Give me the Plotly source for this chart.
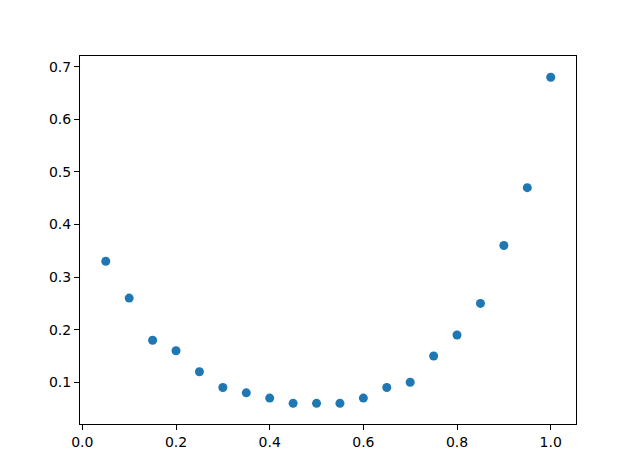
import plotly.graph_objects as go

x_vals = [0.05, 0.10, 0.15, 0.20, 0.25, 0.30, 0.35, 0.40, 0.45, 0.50,
          0.55, 0.60, 0.65, 0.70, 0.75, 0.80, 0.85, 0.90, 0.95, 1.00]
y_vals = [0.33, 0.26, 0.18, 0.16, 0.12, 0.09, 0.08, 0.07, 0.06, 0.06,
          0.06, 0.07, 0.09, 0.10, 0.15, 0.19, 0.25, 0.36, 0.47, 0.68]
x_ticks = [0.0, 0.2, 0.4, 0.6, 0.8, 1.0]
x_tick_labels = ["0.0", "0.2", "0.4", "0.6", "0.8", "1.0"]
y_ticks = [0.1, 0.2, 0.3, 0.4, 0.5, 0.6, 0.7]
y_tick_labels = ["0.1", "0.2", "0.3", "0.4", "0.5", "0.6", "0.7"]

fig = go.Figure(go.Scatter(
    x=x_vals, y=y_vals, mode="markers",
    marker=dict(color="#1f77b4", size=9, line=dict(width=0)),
    showlegend=False,
))

axis_common = dict(
    showgrid=False, zeroline=False, showline=True, linecolor="black",
    linewidth=1, mirror=True, ticks="outside", ticklen=5, tickwidth=1,
    tickcolor="black", tickfont=dict(family="DejaVu Sans", size=14, color="black"),
)
fig.update_xaxes(range=[-0.005, 1.054], tickvals=x_ticks, ticktext=x_tick_labels, **axis_common)
fig.update_yaxes(range=[0.0207, 0.7203], tickvals=y_ticks, ticktext=y_tick_labels, **axis_common)

fig.update_layout(
    width=640, height=476,
    margin=dict(l=72, r=72, t=48, b=60, pad=0),
    plot_bgcolor="white", paper_bgcolor="white",
    font=dict(family="DejaVu Sans", size=14, color="black"),
)
fig.write_html("out.html")
